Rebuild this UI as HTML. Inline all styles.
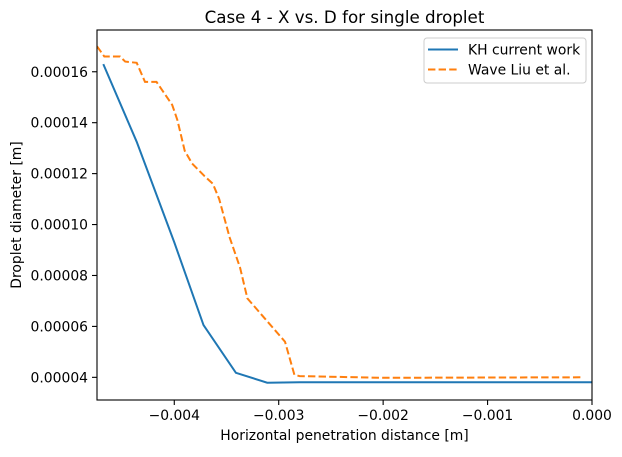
<!DOCTYPE html>
<html><head><meta charset="utf-8"><style>
body{margin:0;background:#fff;font-family:"DejaVu Sans","Liberation Sans",sans-serif;}
svg text{font-family:"DejaVu Sans","Liberation Sans",sans-serif;fill:#000;}
</style></head><body>
<svg id="c" width="622" height="453" xmlns="http://www.w3.org/2000/svg">
<rect width="622" height="453" fill="#fff"/>
</svg>
<script>
const xTicks=[-0.004,-0.003,-0.002,-0.001,0];
const xTickLabels=["\u22120.004","\u22120.003","\u22120.002","\u22120.001","0.000"];
const yTicks=[0.00004,0.00006,0.00008,0.00010,0.00012,0.00014,0.00016];
const yTickLabels=["0.00004","0.00006","0.00008","0.00010","0.00012","0.00014","0.00016"];
const khX=[-0.00468,-0.00436,-0.0040,-0.00372,-0.00341,-0.00311,-0.0028,0];
const khY=[0.000163,0.0001325,0.000093,0.0000605,0.0000418,0.0000379,0.0000381,0.0000381];
const waveX=[-0.00474,-0.00467,-0.00452,-0.00447,-0.00436,-0.00428,-0.00417,-0.00402,-0.00397,-0.0039,-0.00383,-0.00371,-0.00363,-0.00357,-0.00347,-0.00337,-0.0033,-0.00313,-0.00294,-0.00285,-0.0028,-0.002,-0.0001];
const waveY=[0.000170,0.000166,0.000166,0.000164,0.0001635,0.000156,0.000156,0.000147,0.000141,0.000129,0.000124,0.000119,0.000116,0.000110,0.000095,0.000083,0.000071,0.000063,0.000054,0.000041,0.0000405,0.0000398,0.00004];
const svg=document.getElementById('c');
const NS='http://www.w3.org/2000/svg';
const L=97,R=592,T=30,B=400;
const xMin=-0.00474,xMax=0,yMin=0.0000311,yMax=0.0001764;
const sx=v=>L+(v-xMin)/(xMax-xMin)*(R-L);
const sy=v=>B-(v-yMin)/(yMax-yMin)*(B-T);
function mk(tag,attrs,txt){const e=document.createElementNS(NS,tag);for(const k in attrs)e.setAttribute(k,attrs[k]);if(txt!==undefined)e.textContent=txt;svg.appendChild(e);return e;}
function path(xs,ys){return xs.map((x,i)=>(i?'L':'M')+sx(x).toFixed(1)+' '+sy(ys[i]).toFixed(1)).join(' ');}
const clip=mk('clipPath',{id:'pc'});const cr=document.createElementNS(NS,'rect');cr.setAttribute('x',L);cr.setAttribute('y',T);cr.setAttribute('width',R-L);cr.setAttribute('height',B-T);clip.appendChild(cr);
let e;
e=mk('path',{d:path(khX,khY),fill:'none',stroke:'#1f77b4','stroke-width':2,'clip-path':'url(#pc)'});


e=mk('path',{d:path(waveX,waveY),fill:'none',stroke:'#ff7f0e','stroke-width':2,'stroke-dasharray':'7.4,3.2','clip-path':'url(#pc)'});


e=mk('rect',{x:L,y:T,width:R-L,height:B-T,fill:'none',stroke:'#000','stroke-width':1.1});


xTicks.forEach((v,i)=>{const x=sx(v);
 mk('line',{x1:x,x2:x,y1:B,y2:B+5,stroke:'#000','stroke-width':1.1});
 const t=mk('text',{x:x,y:B+20,'font-size':13.9,'text-anchor':'middle'},xTickLabels[i]);
 
 });
yTicks.forEach((v,i)=>{const y=sy(v);
 mk('line',{x1:L,x2:L-5,y1:y,y2:y,stroke:'#000','stroke-width':1.1});
 const t=mk('text',{x:L-9,y:y+5,'font-size':13.9,'text-anchor':'end'},yTickLabels[i]);
 
 });
e=mk('text',{x:(L+R)/2,y:23,'font-size':16.7,'text-anchor':'middle'},'Case 4 - X vs. D for single droplet');


e=mk('text',{x:(L+R)/2,y:440,'font-size':13.9,'text-anchor':'middle'},'Horizontal penetration distance [m]');


e=mk('text',{x:21,y:(T+B)/2,'font-size':13.9,'text-anchor':'middle',transform:'rotate(-90 21 '+((T+B)/2)+')'},'Droplet diameter [m]');


e=mk('rect',{x:424,y:38,width:162,height:45,rx:3,fill:'#fff',stroke:'#ccc','stroke-width':1});


mk('line',{x1:428,x2:458,y1:49.5,y2:49.5,stroke:'#1f77b4','stroke-width':2});
e=mk('text',{x:468,y:54.5,'font-size':13.9},'KH current work');


mk('line',{x1:428,x2:458,y1:69.5,y2:69.5,stroke:'#ff7f0e','stroke-width':2,'stroke-dasharray':'7.4,3.2'});
e=mk('text',{x:468,y:74.5,'font-size':13.9},'Wave Liu et al.');


</script>
</body></html>
